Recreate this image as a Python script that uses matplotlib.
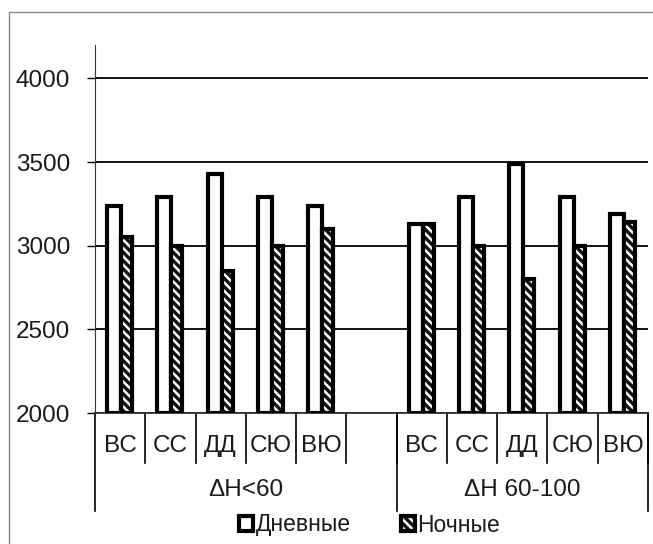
import numpy as np
import matplotlib
matplotlib.use('Agg')
from matplotlib import pyplot as plt
from matplotlib.patches import Patch, Rectangle
from matplotlib.legend_handler import HandlerTuple

plt.rcParams['font.family'] = ['Liberation Sans', 'DejaVu Sans']
plt.rcParams['hatch.linewidth'] = 1.8

# slots 0-4 first group, slot 5 empty, 6-10 second group
cats = ['ВС', 'СС', 'ДД', 'СЮ', 'ВЮ']
groups = ['ΔH<60', 'ΔH 60-100']
day = [3240, 3290, 3430, 3290, 3240, 3130, 3290, 3490, 3290, 3190]
night = [3050, 3000, 2850, 3000, 3100, 3130, 3000, 2800, 3000, 3140]

pos = np.array([0, 1, 2, 3, 4, 6, 7, 8, 9, 10])
day = np.array(day)
night = np.array(night)
base = 2000
txt = '#1a1a1a'

fig = plt.figure(figsize=(6.53, 5.44), dpi=100)
ax = fig.add_axes([95/653, 1-413/544, 553/653, 368/544])

ax.set_xlim(-0.5, 10.5)
ax.set_ylim(2000, 4200)
ax.set_yticks([2000, 2500, 3000, 3500, 4000])
ax.yaxis.grid(True, color='black', lw=1.3)
ax.set_axisbelow(True)

# white bars (day)
ax.bar(pos - 0.12, day - base, bottom=base, width=0.28,
       facecolor='white', edgecolor='black', lw=3, zorder=3)
# hatched bars (night): dark fill with white stripes, then black outline
ax.bar(pos + 0.13, night - base, bottom=base, width=0.22,
       facecolor='#111111', edgecolor='white', hatch='\\\\\\\\', lw=0, zorder=3)
ax.bar(pos + 0.13, night - base, bottom=base, width=0.22,
       fill=False, edgecolor='black', lw=3, zorder=4)

for s in ['top', 'right']:
    ax.spines[s].set_visible(False)
ax.spines['left'].set_color('#333333')
ax.spines['bottom'].set_color('#333333')
ax.spines['bottom'].set_linewidth(1.3)

ax.tick_params(axis='y', length=6, width=1, pad=12, labelsize=17.5, labelcolor=txt)
ax.set_xticks([])

trans = ax.get_xaxis_transform()
# category labels and separators
for g in range(2):
    for i, c in enumerate(cats):
        x = g * 6 + i
        ax.text(x, -0.09, c, transform=trans, ha='center', va='center',
                fontsize=17.5, color=txt)
    for b in range(6 if g == 0 else 5):
        xb = g * 6 + b + 0.5
        ax.plot([xb, xb], [0, -0.135], transform=trans, color='black',
                lw=1.2, clip_on=False)
# group labels and long separators
ax.text(2.5, -0.21, groups[0], transform=trans, ha='center', va='center',
        fontsize=17.5, color=txt)
ax.text(8.0, -0.21, groups[1], transform=trans, ha='center', va='center',
        fontsize=17.5, color=txt)
for xb in [-0.5, 5.5, 10.5]:
    ax.plot([xb, xb], [0, -0.266], transform=trans, color='black',
            lw=1.2, clip_on=False)

h_day = Patch(facecolor='white', edgecolor='black', lw=3)
h_night = (Patch(facecolor='#111111', edgecolor='white', hatch='\\\\\\\\', lw=0),
           Patch(fill=False, edgecolor='black', lw=3))
fig.legend([h_day, h_night], ['Дневные', 'Ночные'], loc='center',
           bbox_to_anchor=(0.566, 1-525/544), ncol=2, frameon=False,
           fontsize=16.5, handlelength=0.6, handleheight=0.6,
           handletextpad=0.1, columnspacing=2.2, labelcolor=txt,
           handler_map={tuple: HandlerTuple(ndivide=1)})

# outer chart frame
fig.patches.append(Rectangle((9/653, -0.1), 1.2, 1-12/544+0.1,
                             transform=fig.transFigure, fill=False,
                             edgecolor='#888888', lw=1))

fig.savefig('out.png', dpi=100)
